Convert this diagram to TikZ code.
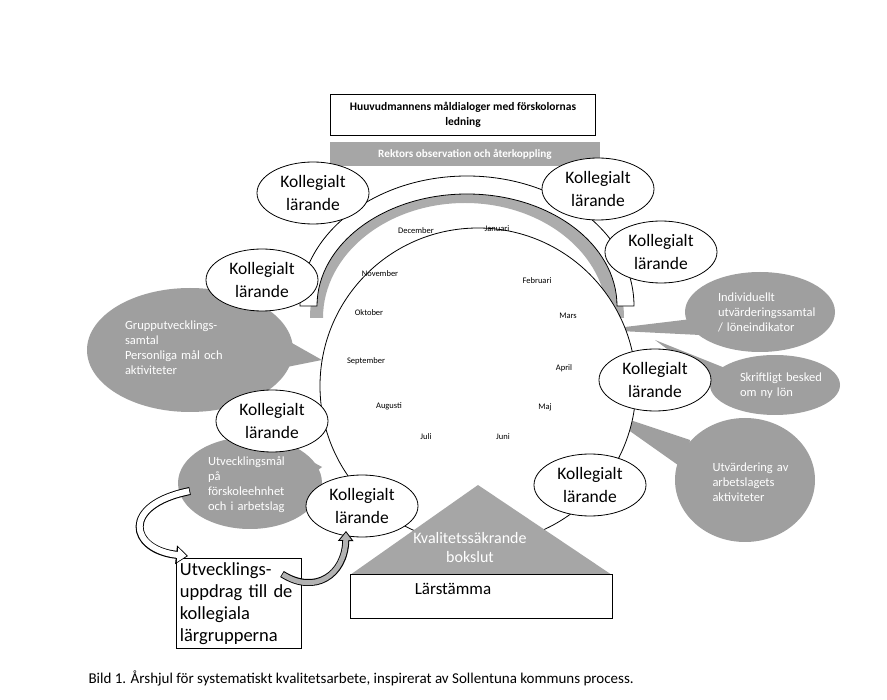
\documentclass[tikz,border=0pt]{standalone}
\usepackage{fontspec}
\setmainfont{Carlito}
\usetikzlibrary{shapes.geometric,arrows.meta,shadows}
\begin{document}
\begin{tikzpicture}[x=1pt,y=-1pt,
  koll/.style={ellipse,draw,thick,fill=white,minimum width=112pt,minimum height=62pt,align=center,font=\fontsize{17.5}{23}\selectfont,inner sep=0pt},
  bubble/.style={fill=gray!75,draw=none},
  btext/.style={text=white,align=left,font=\fontsize{12.5}{15}\selectfont},
  month/.style={font=\fontsize{8.5}{9}\selectfont}]
\useasboundingbox (0,0) rectangle (887,700);
% callouts
\fill[bubble] (190,350) ellipse [x radius=103, y radius=62];
\fill[bubble] (260,325) -- (322,360) -- (262,372) -- cycle;
\node[btext,text width=140pt] (gr) at (195,348) {Grupputvecklings-\\samtal\\Personliga mål och\\aktiviteter};
\fill[bubble] (760,312) ellipse [x radius=75, y radius=40];
\fill[bubble] (700,318) -- (600,330) -- (700,335) -- cycle;
\node[btext,text width=120pt] (ind) at (778,312) {Individuellt\\utvärderingssamtal\\/ löneindikator};
\fill[bubble] (775,385) ellipse [x radius=65, y radius=30];
\fill[bubble] (730,370) -- (655,340) -- (725,392) -- cycle;
\node[btext,text width=100pt] (skr) at (790,386) {Skriftligt besked\\om ny lön};
\fill[bubble] (745,480) ellipse [x radius=70, y radius=62];
\fill[bubble] (690,440) -- (600,410) -- (685,470) -- cycle;
\node[btext,text width=95pt] (utv) at (760,482) {Utvärdering av\\arbetslagets\\aktiviteter};
\fill[bubble] (250,483) ellipse [x radius=72, y radius=46];
\fill[bubble] (300,455) -- (322,467) -- (305,480) -- cycle;
\node[btext,text width=100pt] (um) at (258,485) {Utvecklingsmål\\på\\förskoleehnhet\\och i arbetslag};
% gray bar
\fill[gray!70] (330,142) rectangle (600,166);
\node[text=white,font=\bfseries\fontsize{11.2}{13}\selectfont] (rek) at (465,154) {Rektors observation och återkoppling};
% arch shadow
\fill[gray!65] (310,318) arc[start angle=180,end angle=360,x radius=157,y radius=130] -- (607,318) arc[start angle=360,end angle=180,x radius=142,y radius=115] -- cycle;
% circle
\node[circle,draw,thick,fill=white,minimum size=316pt] (wheel) at (478,386) {};
% arch
\draw[thick,fill=white] (300,306) arc[start angle=180,end angle=360,x radius=167,y radius=130] -- (617,306) arc[start angle=360,end angle=180,x radius=150,y radius=112] -- cycle;
% months
\node[month] (m12) at (416,231) {December};
\node[month] (m1) at (497,229) {Januari};
\node[month] (m2) at (537,281) {Februari};
\node[month] (m3) at (568,316) {Mars};
\node[month] (m4) at (564,368) {April};
\node[month] (m5) at (545,407) {Maj};
\node[month] (m6) at (503,437) {Juni};
\node[month] (m7) at (426,437) {Juli};
\node[month] (m8) at (389,406) {Augusti};
\node[month] (m9) at (366,361) {September};
\node[month] (m10) at (369,313) {Oktober};
\node[month] (m11) at (380,274) {November};
% kollegialt
\node[koll] (k1) at (313,193) {Kollegialt\\lärande};
\node[koll] (k2) at (598,189) {Kollegialt\\lärande};
\node[koll] (k3) at (661,252) {Kollegialt\\lärande};
\node[koll] (k4) at (262,280) {Kollegialt\\lärande};
\node[koll] (k5) at (272,421) {Kollegialt\\lärande};
\node[koll] (k6) at (655,380) {Kollegialt\\lärande};
\node[koll] (k7) at (590,485) {Kollegialt\\lärande};
\node[koll] (k8) at (362,506) {Kollegialt\\lärande};
% top box
\node[draw,thick,fill=white,minimum width=265pt,minimum height=41pt,align=center,font=\bfseries\fontsize{11.5}{15}\selectfont] (hv) at (463,115) {Huuvudmannens måldialoger med förskolornas\\ledning};
% triangle
\fill[gray!70] (478,485) -- (612,575) -- (350,575) -- cycle;
\node[text=white,align=center,font=\fontsize{16}{19}\selectfont] (kv) at (470,548) {Kvalitetssäkrande\\bokslut};
\node[draw,thick,fill=white,minimum width=262pt,minimum height=44pt] (ls) at (481,596) {};
\node[font=\fontsize{17}{19}\selectfont] (lst) at (453,589) {Lärstämma};
% box
\node[draw,thick,fill=white,minimum width=125pt,minimum height=90pt,text width=118pt,align=left,font=\fontsize{18.5}{22}\selectfont,anchor=north west,inner sep=3pt] (ub) at (176,558) {Utvecklings-\\uppdrag till de\\kollegiala\\lärgrupperna};
% curved arrows
\coordinate (a1s) at (190,491);
\coordinate (a1e) at (188,556);
\draw[line width=8pt,draw=black,-{Triangle[length=12pt,width=18pt]}] (a1s) .. controls (120,505) and (130,550) .. (a1e);
\draw[line width=6pt,draw=white,-{Triangle[length=9pt,width=14pt]},shorten >=1.5pt,shorten <=0.8pt] (a1s) .. controls (120,505) and (130,550) .. (a1e);
\coordinate (a2s) at (282,574);
\coordinate (a2e) at (346,531);
\draw[line width=7pt,draw=black,-{Triangle[length=10pt,width=15pt]}] (a2s) .. controls (315,595) and (345,575) .. (a2e);
\draw[line width=5pt,draw=gray!60,-{Triangle[length=7.5pt,width=11pt]},shorten >=1.5pt,shorten <=0.8pt] (a2s) .. controls (315,595) and (345,575) .. (a2e);
% caption
\node[anchor=west,font=\fontsize{15}{17}\selectfont] (cap) at (85,678) {Bild 1. Årshjul för systematiskt kvalitetsarbete, inspirerat av Sollentuna kommuns process.};
\end{tikzpicture}
\end{document}
